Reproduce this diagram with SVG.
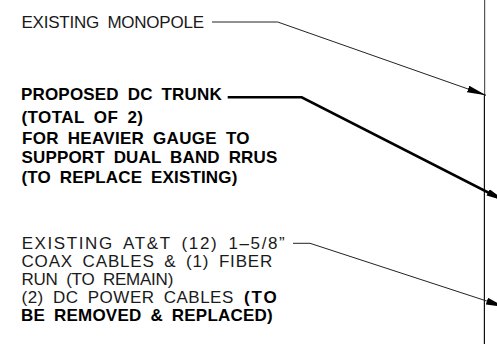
<svg xmlns="http://www.w3.org/2000/svg" width="497" height="344" viewBox="0 0 497 344">
<style>
.n{font-family:"Liberation Sans",Arial,sans-serif;font-size:17px;fill:#1a1a1a;word-spacing:4px}
.b{font-family:"Liberation Sans",Arial,sans-serif;font-size:17px;font-weight:bold;fill:#000;word-spacing:4px}
.thin{fill:none;stroke:#222;stroke-width:1}
.thick{fill:none;stroke:#000;stroke-width:2.6}
</style>
<defs>
<marker id="ah" markerUnits="userSpaceOnUse" markerWidth="20" markerHeight="8" refX="19" refY="3.5" orient="auto">
<path d="M0,0 L19,3.5 L0,7 Z" fill="#000"/>
</marker>
</defs>
<rect width="497" height="344" fill="#fff"/>
<g id="pole">
<line x1="484.6" y1="0" x2="484.6" y2="95" stroke="#555" stroke-width="1.2"/>
<line x1="484.4" y1="95" x2="484.4" y2="344" stroke="#111" stroke-width="1.2"/>
</g>
<g id="label-monopole">
<text class="n" x="21.5" y="28" textLength="182.5" lengthAdjust="spacing">EXISTING MONOPOLE</text>
</g>
<g id="label-dc-trunk">
<text class="b" x="21" y="100" textLength="200.7" lengthAdjust="spacing">PROPOSED DC TRUNK</text>
<text class="b" x="21.5" y="123" textLength="121.5" lengthAdjust="spacing">(TOTAL OF 2)</text>
<text class="b" x="22" y="143.5" textLength="227.5" lengthAdjust="spacing">FOR HEAVIER GAUGE TO</text>
<text class="b" x="21.5" y="163" textLength="255.8" lengthAdjust="spacing">SUPPORT DUAL BAND RRUS</text>
<text class="b" x="21.5" y="182.5" textLength="215.8" lengthAdjust="spacing">(TO REPLACE EXISTING)</text>
</g>
<g id="label-coax">
<text class="n" x="21.7" y="249" textLength="263" lengthAdjust="spacing">EXISTING AT&amp;T (12) 1–5/8”</text>
<text class="n" x="21.5" y="267" textLength="250.8" lengthAdjust="spacing">COAX CABLES &amp; (1) FIBER</text>
<text class="n" x="21.5" y="285" textLength="151.8" lengthAdjust="spacing">RUN (TO REMAIN)</text>
<text class="n" x="21.5" y="303" textLength="211.8" lengthAdjust="spacing">(2) DC POWER CABLES</text>
<text class="b" x="244" y="303" textLength="32.7" lengthAdjust="spacing">(TO</text>
<text class="b" x="21" y="321" textLength="251.7" lengthAdjust="spacing">BE REMOVED &amp; REPLACED)</text>
</g>
<g id="connectors">
<polyline class="thin" points="212,22 277.7,22 486,95.3" marker-end="url(#ah)"/>
<polyline class="thick" points="227.7,97.3 301.7,97.3 505,201" marker-end="url(#ah)"/>
<polyline class="thin" points="293,243.3 310,243.3 505,307" marker-end="url(#ah)"/>
</g>
</svg>
